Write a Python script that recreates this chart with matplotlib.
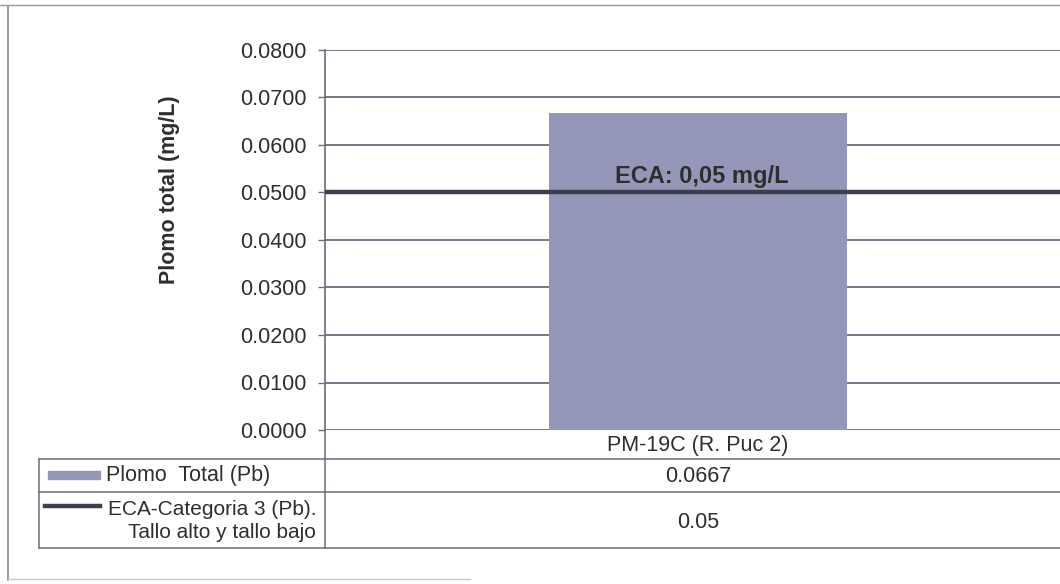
import matplotlib
matplotlib.use("Agg")
import matplotlib.pyplot as plt
from matplotlib.transforms import blended_transform_factory
from matplotlib.patches import Rectangle

plt.rcParams["font.family"] = ["Liberation Sans", "DejaVu Sans"]

# ── data ──────────────────────────────────────────────────────────────────────
categories = ["PM-19C (R. Puc 2)"]
plomo_total = [0.0667]
eca_limit = [0.05]
series_names = ["Plomo  Total (Pb)", "ECA-Categoria 3 (Pb).\nTallo alto y tallo bajo"]
table_values = ["0.0667", "0.05"]
y_ticks = [0.0, 0.01, 0.02, 0.03, 0.04, 0.05, 0.06, 0.07, 0.08]
eca_label = "ECA: 0,05 mg/L"
y_label = "Plomo total (mg/L)"

BAR_COLOR = "#9597b9"
LINE_COLOR = "#3b3f4e"
GRID_COLOR = "#6c6c7c"
TEXT_COLOR = "#2e2e2e"

W, H = 1060, 584
fig = plt.figure(figsize=(W / 100, H / 100), dpi=100)

# overlay in pixel coords for frame + data table
axo = fig.add_axes([0, 0, 1, 1])
axo.set_xlim(0, W)
axo.set_ylim(H, 0)
axo.axis("off")

# ── chart area ────────────────────────────────────────────────────────────────
left_px, top_px, bot_px = 325, 50, 430
ax = fig.add_axes([left_px / W, 1 - bot_px / H, 1 - left_px / W, (bot_px - top_px) / H])
cat_w = 2 * (698 - left_px)
ax.set_xlim(-0.5, -0.5 + (W - left_px) / cat_w)
ax.set_ylim(0, 0.08)
ax.set_facecolor("none")

xs = list(range(len(categories)))
ax.bar(xs, plomo_total, width=0.4, color=BAR_COLOR, zorder=2)
ax.axhline(eca_limit[0], color=LINE_COLOR, lw=3.2, zorder=3)
ax.text(xs[0] + 0.005, eca_limit[0] + 0.0010, eca_label, ha="center", va="bottom",
        fontsize=17, fontweight="bold", color=TEXT_COLOR, zorder=4)

ax.set_yticks(y_ticks)
ax.set_yticklabels([f"{v:.4f}" for v in y_ticks], fontsize=15.5, color=TEXT_COLOR)
ax.tick_params(axis="y", length=5, width=1, color=GRID_COLOR, pad=8)
ax.set_xticks([])
ax.yaxis.grid(True, color=GRID_COLOR, lw=1.3, zorder=1)
for s in ["top", "right", "bottom"]:
    ax.spines[s].set_visible(False)
ax.spines["left"].set_color(GRID_COLOR)
ax.spines["left"].set_linewidth(1.2)

axo.text(169, 190, y_label, rotation=90, ha="center", va="center",
         fontsize=15.5, fontweight="bold", color=TEXT_COLOR)

# ── outer frame ───────────────────────────────────────────────────────────────
axo.plot([8, 8], [6, 580], color="#8a8a8a", lw=1.2)
axo.plot([0, W], [5, 5], color="#9a9a9a", lw=1.0)
axo.plot([8, 470], [579, 579], color="#c8c8c8", lw=1.0)

# ── data table ────────────────────────────────────────────────────────────────
tr = blended_transform_factory(ax.transData, axo.transData)
rows_y = [459, 492, 548]
for y in rows_y:
    axo.plot([39, W], [y, y], color=GRID_COLOR, lw=1.1)
axo.plot([39, 39], [459, 548], color=GRID_COLOR, lw=1.1)
axo.plot([left_px, left_px], [bot_px, 548], color=GRID_COLOR, lw=1.1)

axo.text(xs[0], 445, categories[0], transform=tr, ha="center", va="center",
         fontsize=15.5, color=TEXT_COLOR)
axo.text(xs[0], 477, table_values[0], transform=tr, ha="center", va="center",
         fontsize=15.5, color=TEXT_COLOR)
axo.text(xs[0], 523, table_values[1], transform=tr, ha="center", va="center",
         fontsize=15.5, color=TEXT_COLOR)

# legend keys
axo.add_patch(Rectangle((48, 471), 52, 8, color=BAR_COLOR))
axo.text(106, 476, series_names[0], ha="left", va="center", fontsize=15.5, color=TEXT_COLOR)
axo.plot([45, 100], [506, 506], color=LINE_COLOR, lw=3.2)
axo.text(316, 521, series_names[1], ha="right", va="center", fontsize=15,
         color=TEXT_COLOR, multialignment="right", linespacing=1.25)

fig.savefig("out.png", dpi=100)
